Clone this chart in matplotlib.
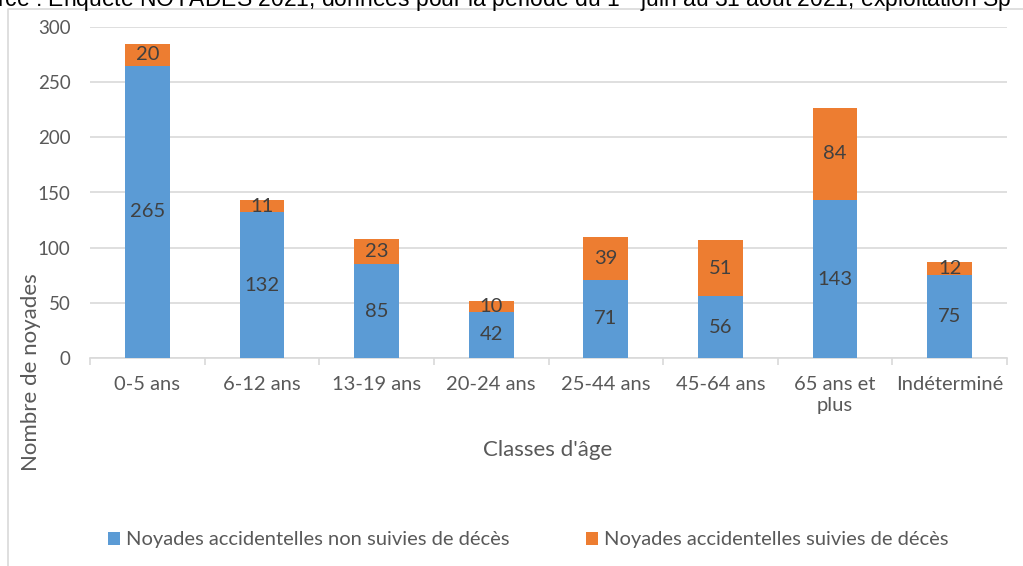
import matplotlib
matplotlib.use("Agg")
import matplotlib.pyplot as plt
from matplotlib.patches import Patch
from matplotlib.lines import Line2D

categories = ["0-5 ans", "6-12 ans", "13-19 ans", "20-24 ans", "25-44 ans",
              "45-64 ans", "65 ans et\nplus", "Indéterminé"]
non_deces = [265, 132, 85, 42, 71, 56, 143, 75]
deces = [20, 11, 23, 10, 39, 51, 84, 12]
yticks = [0, 50, 100, 150, 200, 250, 300]
series_names = ["Noyades accidentelles non suivies de décès",
                "Noyades accidentelles suivies de décès"]

BLUE = "#5B9BD5"
ORANGE = "#ED7D31"
TXT = "#595959"
LBL = "#404040"
GRID = "#D9D9D9"
FONT = ["Lato", "DejaVu Sans"]

plt.rcParams["font.family"] = FONT

W, H = 1023, 566
fig = plt.figure(figsize=(W / 100, H / 100), dpi=100)
ax = fig.add_axes([90 / W, 1 - 358 / H, (1007 - 90) / W, (358 - 27) / H])

x = list(range(len(categories)))
bw = 0.39
b1 = ax.bar(x, non_deces, width=bw, color=BLUE, zorder=3)
b2 = ax.bar(x, deces, width=bw, bottom=non_deces, color=ORANGE, zorder=3)
ax.bar_label(b1, labels=[str(v) for v in non_deces], label_type="center",
             fontsize=14.5, color=LBL)
ax.bar_label(b2, labels=[str(v) for v in deces], label_type="center",
             fontsize=14.5, color=LBL)

ax.set_xlim(-0.5, len(categories) - 0.5)
ax.set_ylim(0, 300)
ax.set_yticks(yticks)
ax.set_yticklabels([str(t) for t in yticks], fontsize=13.5, color=TXT)
ax.set_xticks(x)
ax.set_xticklabels(categories, fontsize=14.5, color=TXT, linespacing=1.25)
ax.set_xticks([i - 0.5 for i in range(len(categories) + 1)], minor=True)
ax.tick_params(axis="y", length=0, pad=14)
ax.tick_params(axis="x", which="major", length=0, pad=13)
ax.tick_params(axis="x", which="minor", length=5, width=1.2, color=GRID, direction="out")
ax.grid(axis="y", color=GRID, linewidth=1.2, zorder=0)
for s in ["top", "right", "left"]:
    ax.spines[s].set_visible(False)
ax.spines["bottom"].set_color(GRID)
ax.spines["bottom"].set_linewidth(1.2)

fig.text(548 / W, 1 - 450 / H, "Classes d'âge", fontsize=16, color=TXT,
         ha="center", va="center")
fig.text(31 / W, 1 - 372 / H, "Nombre de noyades", fontsize=16, color=TXT,
         ha="center", va="center", rotation=90)

handles = [Patch(facecolor=BLUE), Patch(facecolor=ORANGE)]
fig.legend(handles, series_names, loc="center", bbox_to_anchor=(528 / W, 1 - 540 / H),
           ncol=2, frameon=False, fontsize=14.5, labelcolor=TXT,
           handlelength=0.6, handleheight=0.6, handletextpad=0.3, columnspacing=3.8)

# chart-area border (left and top edges)
fig.add_artist(Line2D([8 / W, 8 / W, 1.0], [0, 1 - 9 / H, 1 - 9 / H],
                      transform=fig.transFigure, color=GRID, linewidth=1.2))

# cut-off source line at the very top (cropped in the reference as well)
fig.text(-3 / W, 1 - 7 / H,
         "rce : Enquête NOYADES 2021, données pour la période du 1$^{\\mathregular{er}}$ juin au 31 août 2021, exploitation Sp",
         fontsize=16.5, color="black", ha="left", va="baseline",
         family=["Liberation Sans", "DejaVu Sans"])

fig.savefig("out.png", dpi=100)
